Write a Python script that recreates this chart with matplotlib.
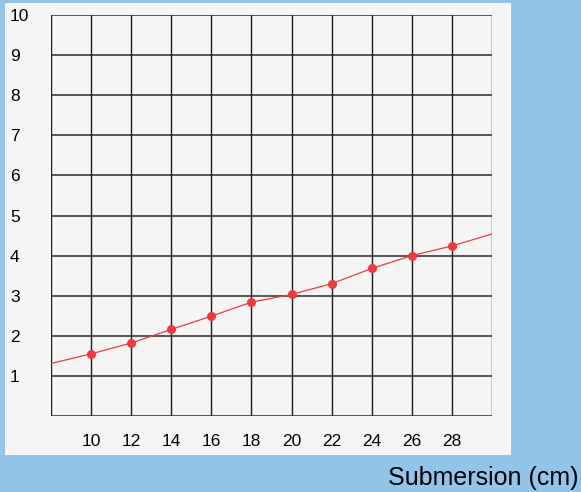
import matplotlib.pyplot as plt
from matplotlib.patches import Rectangle

# submersion depth (cm) and reading, line runs past the measured points
line_x = [8, 10, 12, 14, 16, 18, 20, 22, 24, 26, 28, 30]
line_y = [1.31, 1.55, 1.82, 2.16, 2.49, 2.84, 3.03, 3.30, 3.68, 4.0, 4.24, 4.54]
x_ticks = [10, 12, 14, 16, 18, 20, 22, 24, 26, 28]
y_ticks = [1, 2, 3, 4, 5, 6, 7, 8, 9, 10]

plt.rcParams['font.family'] = ['Liberation Sans', 'DejaVu Sans']

fig = plt.figure(figsize=(5.81, 4.92), dpi=100)
fig.patch.set_facecolor('#93C5EB')

# light panel behind the grid
fig.patches.append(Rectangle((5 / 581, (492 - 455) / 492), (511 - 5) / 581, (455 - 3) / 492,
                             transform=fig.transFigure, facecolor='#F5F5F5',
                             edgecolor='none', zorder=-5))

ax = fig.add_axes([51 / 581, (492 - 416) / 492, (492 - 51) / 581, (416 - 15) / 492])
ax.set_zorder(1)
ax.set_facecolor('none')
ax.set_xlim(8, 30)
ax.set_ylim(0, 10)

# grid
for gx in range(8, 31, 2):
    ax.axvline(gx, color='#1a1a1a', lw=1.0, zorder=1)
for gy in range(0, 11):
    ax.axhline(gy, color='#2a2a2a', lw=1.1, zorder=1)

ax.plot(line_x, line_y, color='#EE3A40', lw=0.9, marker='o', ms=5.5,
        markevery=list(range(1, len(line_x) - 1)), zorder=3)

for s in ax.spines.values():
    s.set_visible(False)

ax.set_xticks(x_ticks)
ax.set_xticklabels([str(v) for v in x_ticks], fontsize=12.5)
ax.set_yticks(y_ticks)
ax.set_yticklabels([str(v) for v in y_ticks], fontsize=12.5, ha='left')
ax.tick_params(axis='x', length=0, pad=13)
ax.tick_params(axis='y', length=0, pad=29.5)

fig.text(578 / 581, (492 - 485) / 492, 'Submersion (cm)', fontsize=18,
         ha='right', va='baseline')

fig.savefig('out.png', dpi=100, facecolor=fig.get_facecolor())
